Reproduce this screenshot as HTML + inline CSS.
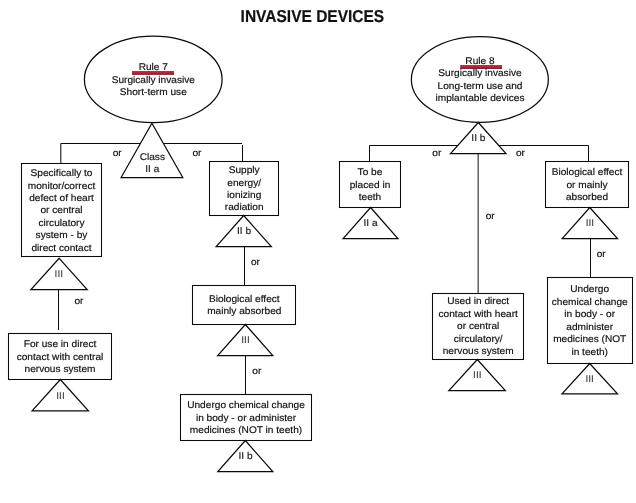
<!DOCTYPE html>
<html><head><meta charset="utf-8"><style>
html,body{margin:0;padding:0;background:#fff;}
body{width:636px;height:503px;overflow:hidden;position:relative;}
svg{position:absolute;left:0;top:0;will-change:transform;}
.s line,.s rect,.s polygon,.s ellipse{fill:none;stroke:#0a0a0a;stroke-width:1.05;}
.s polygon,.s ellipse{stroke-width:1.25;}
.s rect,.s polygon,.s ellipse{fill:#fff;}
text{text-rendering:geometricPrecision;font-family:"Liberation Sans",sans-serif;font-size:10.15px;text-anchor:middle;fill:#111;stroke:#111;stroke-width:0.18px;}
text.g{fill:#222;stroke:#222;stroke-width:0.2px;}
text.g3{fill:#3c3c3c;stroke:#3c3c3c;stroke-width:0.1px;}
.title{font-family:"Liberation Sans",sans-serif;font-weight:bold;font-size:17.2px;fill:#111;text-anchor:middle;}
</style></head><body>
<svg width="636" height="503" viewBox="0 0 636 503">
<text x="312.4" y="21.6" class="title" textLength="143.6" lengthAdjust="spacingAndGlyphs">INVASIVE DEVICES</text>
<g class="s">
<line x1="60.8" y1="143.5" x2="242" y2="143.5"/>
<line x1="60.8" y1="143.5" x2="60.8" y2="163.5"/>
<line x1="242.5" y1="145" x2="242.5" y2="161.5"/>
<ellipse cx="153.25" cy="79.4" rx="68.85" ry="43.2"/>
<polygon points="151.9,123.2 182.8,177.5 121.1,177.5"/>
<rect x="21.5" y="163.5" width="80.0" height="93.0"/>
<polygon points="59.2,258.3 87.2,289.5 30.9,289.5"/>
<line x1="58.5" y1="289.5" x2="58.5" y2="330"/>
<rect x="8.5" y="333.5" width="103.0" height="46.0"/>
<polygon points="60.3,379.5 88.4,410.9 32.1,410.9"/>
<rect x="209.5" y="161.5" width="69.0" height="54.0"/>
<polygon points="243.7,215.5 271.3,246.5 216.2,246.5"/>
<line x1="244.5" y1="246.5" x2="244.5" y2="285.5"/>
<rect x="192.5" y="285.5" width="103.0" height="39.0"/>
<polygon points="245.3,324.5 272.8,355.5 217.7,355.5"/>
<line x1="245.5" y1="355.5" x2="245.5" y2="394.5"/>
<rect x="180.5" y="394.5" width="131.0" height="46.0"/>
<polygon points="245.3,440.5 272.8,471.7 217.8,471.7"/>
<line x1="369.5" y1="145.5" x2="588.5" y2="145.5"/>
<line x1="369.5" y1="145.5" x2="369.5" y2="161.5"/>
<line x1="588.5" y1="145.5" x2="588.5" y2="161.5"/>
<ellipse cx="479.85" cy="79.5" rx="68.5" ry="42.9"/>
<line x1="478.2" y1="153.1" x2="478.2" y2="293.5" style="stroke:#555;stroke-width:1.4"/>
<polygon points="478.3,122.5 506,153.5 450.5,153.5"/>
<rect x="339.5" y="161.5" width="61.0" height="46.0"/>
<polygon points="370.6,207.5 397.9,238.6 343.1,238.6"/>
<rect x="432.5" y="293.5" width="91.0" height="66.0"/>
<polygon points="477.3,359.5 505.3,390.5 448.9,390.5"/>
<rect x="545.5" y="161.5" width="83.0" height="46.0"/>
<polygon points="589.8,207.5 617.5,238.7 562.2,238.7"/>
<line x1="590.5" y1="238.7" x2="590.5" y2="277.5"/>
<rect x="547.5" y="277.5" width="85.0" height="86.0"/>
<polygon points="589.7,363.5 617.5,393.9 562,393.9"/>
</g>
<defs><linearGradient id="rg" x1="0" y1="0" x2="0" y2="1"><stop offset="0" stop-color="#b8364a"/><stop offset="0.5" stop-color="#aa263c"/><stop offset="1" stop-color="#8e1b2e"/></linearGradient></defs><rect x="132" y="71" width="42" height="3.9" fill="url(#rg)"/><rect x="460.2" y="65" width="41.8" height="4" fill="url(#rg)"/>
<text x="153.3" y="69.9" class="t" transform="matrix(1 0 0 0.96 0 2.796)">Rule 7</text>
<text x="153.3" y="83" class="t" transform="matrix(1 0 0 0.96 0 3.32)">Surgically invasive</text>
<text x="153.3" y="94.6" class="t" transform="matrix(1 0 0 0.96 0 3.784)">Short-term use</text>
<text x="480" y="63.8" class="t" transform="matrix(1 0 0 0.96 0 2.552)">Rule 8</text>
<text x="480" y="75.9" class="t" transform="matrix(1 0 0 0.96 0 3.036)">Surgically invasive</text>
<text x="480" y="89" class="t" transform="matrix(1 0 0 0.96 0 3.56)">Long-term use and</text>
<text x="480" y="101.1" class="t" transform="matrix(1 0 0 0.96 0 4.044)">implantable devices</text>
<text x="152.3" y="160" class="g" transform="matrix(1 0 0 0.96 0 6.4)">Class</text>
<text x="152.3" y="171.7" class="g" transform="matrix(1 0 0 0.96 0 6.868)">II a</text>
<text x="117.2" y="156" class="t" transform="matrix(1 0 0 0.96 0 6.24)">or</text>
<text x="196.9" y="156" class="t" transform="matrix(1 0 0 0.96 0 6.24)">or</text>
<text x="61.5" y="176" class="t" transform="matrix(1 0 0 0.96 0 7.04)">Specifically to</text>
<text x="61.5" y="189.2" class="t" transform="matrix(1 0 0 0.96 0 7.568)">monitor/correct</text>
<text x="61.5" y="201.2" class="t" transform="matrix(1 0 0 0.96 0 8.048)">defect of heart</text>
<text x="61.5" y="213.4" class="t" transform="matrix(1 0 0 0.96 0 8.536)">or central</text>
<text x="61.5" y="225.8" class="t" transform="matrix(1 0 0 0.96 0 9.032)">circulatory</text>
<text x="61.5" y="237.9" class="t" transform="matrix(1 0 0 0.96 0 9.516)">system - by</text>
<text x="61.5" y="250.9" class="t" transform="matrix(1 0 0 0.96 0 10.036)">direct contact</text>
<text x="58.8" y="277.4" class="g3" transform="matrix(1 0 0 0.96 0 11.096)">III</text>
<text x="79" y="304" class="t" transform="matrix(1 0 0 0.96 0 12.16)">or</text>
<text x="60" y="347" class="t" transform="matrix(1 0 0 0.96 0 13.88)">For use in direct</text>
<text x="60" y="359.9" class="t" transform="matrix(1 0 0 0.96 0 14.396)">contact with central</text>
<text x="60" y="371.9" class="t" transform="matrix(1 0 0 0.96 0 14.876)">nervous system</text>
<text x="60.5" y="398.7" class="g3" transform="matrix(1 0 0 0.96 0 15.948)">III</text>
<text x="244.2" y="172.9" class="t" transform="matrix(1 0 0 0.96 0 6.916)">Supply</text>
<text x="244.2" y="185.6" class="t" transform="matrix(1 0 0 0.96 0 7.424)">energy/</text>
<text x="244.2" y="198" class="t" transform="matrix(1 0 0 0.96 0 7.92)">ionizing</text>
<text x="244.2" y="209.9" class="t" transform="matrix(1 0 0 0.96 0 8.396)">radiation</text>
<text x="244" y="233.9" class="g" transform="matrix(1 0 0 0.96 0 9.356)">II b</text>
<text x="255.5" y="265" class="t" transform="matrix(1 0 0 0.96 0 10.6)">or</text>
<text x="244.3" y="301.9" class="t" transform="matrix(1 0 0 0.96 0 12.076)">Biological effect</text>
<text x="244.3" y="313.6" class="t" transform="matrix(1 0 0 0.96 0 12.544)">mainly absorbed</text>
<text x="245.5" y="342.7" class="g3" transform="matrix(1 0 0 0.96 0 13.708)">III</text>
<text x="256.8" y="374" class="t" transform="matrix(1 0 0 0.96 0 14.96)">or</text>
<text x="246" y="408" class="t" transform="matrix(1 0 0 0.96 0 16.32)">Undergo chemical change</text>
<text x="246" y="420.9" class="t" transform="matrix(1 0 0 0.96 0 16.836)">in body - or administer</text>
<text x="246" y="433.1" class="t" transform="matrix(1 0 0 0.96 0 17.324)">medicines (NOT in teeth)</text>
<text x="245.5" y="458.5" class="g" transform="matrix(1 0 0 0.96 0 18.34)">II b</text>
<text x="478.4" y="140.8" class="g" transform="matrix(1 0 0 0.96 0 5.632)">II b</text>
<text x="436.8" y="156" class="t" transform="matrix(1 0 0 0.96 0 6.24)">or</text>
<text x="520.4" y="156" class="t" transform="matrix(1 0 0 0.96 0 6.24)">or</text>
<text x="370" y="174.6" class="t" transform="matrix(1 0 0 0.96 0 6.984)">To be</text>
<text x="370" y="187.8" class="t" transform="matrix(1 0 0 0.96 0 7.512)">placed in</text>
<text x="370" y="199.8" class="t" transform="matrix(1 0 0 0.96 0 7.992)">teeth</text>
<text x="370.6" y="226.2" class="g" transform="matrix(1 0 0 0.96 0 9.048)">II a</text>
<text x="490.2" y="219" class="t" transform="matrix(1 0 0 0.96 0 8.76)">or</text>
<text x="478.2" y="304.2" class="t" transform="matrix(1 0 0 0.96 0 12.168)">Used in direct</text>
<text x="478.2" y="316.8" class="t" transform="matrix(1 0 0 0.96 0 12.672)">contact with heart</text>
<text x="478.2" y="328.8" class="t" transform="matrix(1 0 0 0.96 0 13.152)">or central</text>
<text x="478.2" y="341.6" class="t" transform="matrix(1 0 0 0.96 0 13.664)">circulatory/</text>
<text x="478.2" y="353.6" class="t" transform="matrix(1 0 0 0.96 0 14.144)">nervous system</text>
<text x="477.3" y="377.9" class="g3" transform="matrix(1 0 0 0.96 0 15.116)">III</text>
<text x="587" y="174.8" class="t" transform="matrix(1 0 0 0.96 0 6.992)">Biological effect</text>
<text x="587" y="188.2" class="t" transform="matrix(1 0 0 0.96 0 7.528)">or mainly</text>
<text x="587" y="199.9" class="t" transform="matrix(1 0 0 0.96 0 7.996)">absorbed</text>
<text x="589.9" y="225.8" class="g3" transform="matrix(1 0 0 0.96 0 9.032)">III</text>
<text x="601.2" y="257" class="t" transform="matrix(1 0 0 0.96 0 10.28)">or</text>
<text x="589.7" y="292" class="t" transform="matrix(1 0 0 0.96 0 11.68)">Undergo</text>
<text x="589.7" y="304.9" class="t" transform="matrix(1 0 0 0.96 0 12.196)">chemical change</text>
<text x="589.7" y="317" class="t" transform="matrix(1 0 0 0.96 0 12.68)">in body - or</text>
<text x="589.7" y="329.8" class="t" transform="matrix(1 0 0 0.96 0 13.192)">administer</text>
<text x="589.7" y="342.3" class="t" transform="matrix(1 0 0 0.96 0 13.692)">medicines (NOT</text>
<text x="589.7" y="355" class="t" transform="matrix(1 0 0 0.96 0 14.2)">in teeth)</text>
<text x="589.7" y="382.3" class="g3" transform="matrix(1 0 0 0.96 0 15.292)">III</text>
</svg>
</body></html>
